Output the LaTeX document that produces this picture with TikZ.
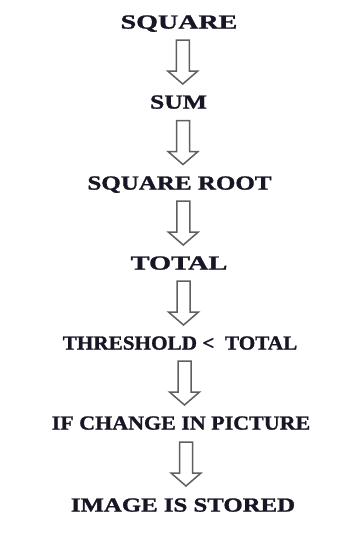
\documentclass[tikz,border=0pt]{standalone}
\usepackage{fontspec}
\setmainfont{Liberation Serif}
\newfontfamily\heavyserif{Liberation Serif Bold}[FakeBold=1.2]
\usetikzlibrary{calc}
\definecolor{ink}{RGB}{24,22,36}
\definecolor{arrowline}{RGB}{95,95,95}
\tikzset{
  stage/.style={font=\heavyserif\fontsize{20}{24}\selectfont, text=ink,
    inner sep=0pt, text height=13.2pt, text depth=0pt, anchor=center},
  blockarrow/.style={draw=arrowline, line width=1.5pt, fill=white, line join=miter}
}
% widened label text
\newcommand\wide[2]{\scalebox{#1}[1]{#2}}
% hollow downward block arrow centred between two stacked nodes
\newcommand\downarrowbetween[2]{%
  \path ($(#1.center)!0.5!(#2.center)+(4,0)$) coordinate (mid);
  \draw[blockarrow]
    ($(mid)+(-6.5,22)$) -- ($(mid)+(6.5,22)$) -- ($(mid)+(6.5,-9)$) --
    ($(mid)+(15,-9)$) -- ($(mid)+(0,-22)$) -- ($(mid)+(-15,-9)$) --
    ($(mid)+(-6.5,-9)$) -- cycle;
}
\begin{document}
\begin{tikzpicture}[x=1pt,y=1pt]
  \useasboundingbox (0,0) rectangle (344,-536);
  \node[stage] (s1) at (179,-22)  {\wide{1.40}{SQUARE}};
  \node[stage] (s2) at (178.5,-102) {\wide{1.28}{SUM}};
  \node[stage] (s3) at (179.5,-183) {\wide{1.25}{SQUARE ROOT}};
  \node[stage] (s4) at (179,-263) {\wide{1.42}{TOTAL}};
  \node[stage] (s5) at (180,-343) {\wide{1.06}{THRESHOLD <\ \ TOTAL}};
  \node[stage] (s6) at (181,-423) {\wide{1.10}{IF CHANGE IN PICTURE}};
  \node[stage] (s7) at (183,-505) {\wide{1.24}{IMAGE IS STORED}};
  \downarrowbetween{s1}{s2}
  \downarrowbetween{s2}{s3}
  \downarrowbetween{s3}{s4}
  \downarrowbetween{s4}{s5}
  \downarrowbetween{s5}{s6}
  \downarrowbetween{s6}{s7}
\end{tikzpicture}
\end{document}
